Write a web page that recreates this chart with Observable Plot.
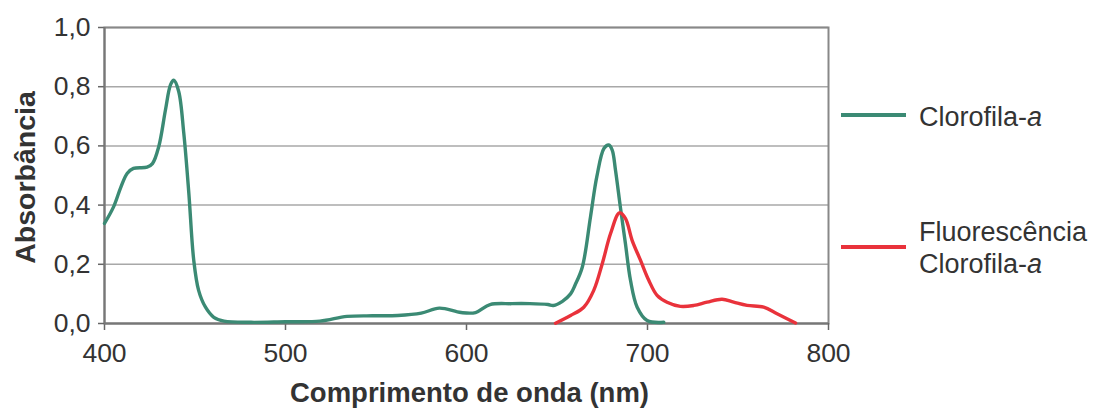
<!DOCTYPE html>
<html>
<head>
<meta charset="utf-8">
<script src="https://cdn.jsdelivr.net/npm/d3@7"></script>
<script src="https://cdn.jsdelivr.net/npm/@observablehq/plot@0.6"></script>
<style>
  body { margin: 0; background: #fff; }
  #wrap { position: relative; width: 1096px; height: 410px; font-family: "Liberation Sans", Arial, sans-serif; color: #333; }
  .leg { position: absolute; font-size: 27px; line-height: 32px; color: #333; white-space: nowrap; }
  .sw { position: absolute; height: 4px; width: 65px; }
</style>
</head>
<body>
<div id="wrap"></div>
<script>
// Clorofila-a absorbance spectrum
const chlWavelength = [400,405,409,412.5,416,423.5,426.5,430,433.7,436.5,438.3,441,443.8,446.6,449.3,452,455.8,460.4,466,481,500,519,534,548,562,575,585,597,605,613,625,635,645,648,653,657.5,660,664,668.5,672,676,678.6,680.5,682.3,685,687.8,690.6,694.3,699.8,709];
const chlAbsorbance = [0.338,0.394,0.46,0.507,0.524,0.528,0.54,0.598,0.722,0.807,0.822,0.784,0.643,0.44,0.214,0.112,0.055,0.021,0.008,0.004,0.006,0.008,0.024,0.026,0.027,0.035,0.052,0.037,0.037,0.064,0.067,0.067,0.064,0.061,0.075,0.10,0.13,0.191,0.36,0.496,0.592,0.603,0.586,0.519,0.394,0.27,0.146,0.055,0.01,0.004];
// Fluorescência Clorofila-a
const fluoWavelength = [649.2,657.5,664.8,670.3,675,679.6,684.5,687.8,691.5,696.1,700.7,705.3,710.8,718.2,725.6,732.9,741.2,747.6,755,764.2,771.6,781.8];
const fluoValue = [0.001,0.027,0.055,0.112,0.202,0.304,0.374,0.355,0.281,0.214,0.146,0.095,0.072,0.058,0.061,0.072,0.082,0.072,0.061,0.055,0.033,0.002];

const xTicks = [400, 500, 600, 700, 800];
const yTicks = [0, 0.2, 0.4, 0.6, 0.8, 1.0];
const seriesNames = ["Clorofila-a", "Fluorescência Clorofila-a"];
const seriesColors = ["#3b8a74", "#e9323b"];

const chl = chlWavelength.map((w, i) => ({w, v: chlAbsorbance[i]}));
const fluo = fluoWavelength.map((w, i) => ({w, v: fluoValue[i]}));

const chart = Plot.plot({
  width: 1096,
  height: 410,
  marginLeft: 104,
  marginRight: 268,
  marginTop: 27,
  marginBottom: 87,
  style: {fontFamily: "'Liberation Sans', Arial, sans-serif", fontSize: "26px", color: "#333", background: "#fff"},
  x: {domain: [400, 800]},
  y: {domain: [0, 1]},
  marks: [
    Plot.gridY(yTicks, {stroke: "#a8a8a8", strokeOpacity: 1, strokeWidth: 1.5}),
    Plot.frame({stroke: "#888", strokeWidth: 2}),
    Plot.axisY(yTicks, {tickSize: 6, tickPadding: 8, tickFormat: d => d.toFixed(1).replace(".", ","), label: null, fontSize: 26.5, stroke: "#666", strokeWidth: 1.5}),
    Plot.axisX(xTicks, {tickSize: 7, tickPadding: 13, tickFormat: d => String(d), label: null, fontSize: 26.5, stroke: "#666", strokeWidth: 1.5}),
    Plot.ruleY([0], {stroke: "#777", strokeWidth: 2}),
    Plot.ruleX([400], {stroke: "#777", strokeWidth: 2}),
    Plot.line(chl, {x: "w", y: "v", stroke: seriesColors[0], strokeWidth: 3.4, curve: "catmull-rom"}),
    Plot.line(fluo, {x: "w", y: "v", stroke: seriesColors[1], strokeWidth: 3.4, curve: "catmull-rom"}),
    Plot.text(["Absorbância"], {frameAnchor: "left", dx: -79, dy: 2, rotate: -90, textAnchor: "middle", lineAnchor: "middle", fontWeight: "bold", fontSize: 28.5, fill: "#333"}),
    Plot.text(["Comprimento de onda (nm)"], {frameAnchor: "bottom", dy: 70, dx: 3, textAnchor: "middle", lineAnchor: "middle", fontWeight: "bold", fontSize: 27.5, fill: "#333"})
  ]
});

const wrap = document.getElementById("wrap");
wrap.appendChild(chart);

// legend
function addSwatch(color, top) {
  const d = document.createElement("div");
  d.className = "sw";
  d.style.left = "841px";
  d.style.top = top + "px";
  d.style.background = color;
  wrap.appendChild(d);
}
function addLabel(html, top) {
  const d = document.createElement("div");
  d.className = "leg";
  d.style.left = "919px";
  d.style.top = top + "px";
  d.innerHTML = html;
  wrap.appendChild(d);
}
function fmt(name) {
  return name.replace(/-a$/, "-<i>a</i>").replace("Fluorescência ", "Fluorescência<br>");
}
addSwatch(seriesColors[0], 113);
addLabel(fmt(seriesNames[0]), 101);
addSwatch(seriesColors[1], 245);
addLabel(fmt(seriesNames[1]), 216);
</script>
</body>
</html>
